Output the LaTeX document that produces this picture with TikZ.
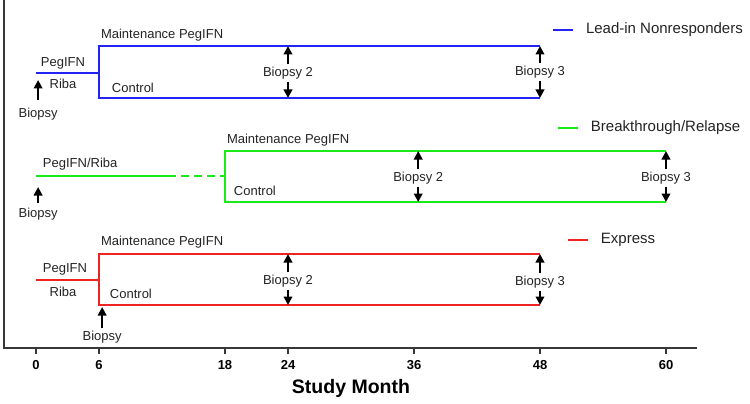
\documentclass[tikz,border=0pt]{standalone}
\usepackage{fontspec}
\setmainfont{Liberation Sans}
\usetikzlibrary{arrows.meta}
\definecolor{lnblue}{RGB}{35,35,245}
\definecolor{brgreen}{RGB}{25,235,25}
\definecolor{exred}{RGB}{240,35,35}
\definecolor{axgray}{RGB}{55,55,55}
\definecolor{txgray}{RGB}{35,35,35}
\begin{document}
\begin{tikzpicture}[x=10.5pt, y=-1pt, line width=2pt,
  lbl/.style={font=\fontsize{13}{15}\selectfont, text=txgray, inner sep=1.5pt},
  lblw/.style={lbl, anchor=west, inner sep=0pt},
  legtxt/.style={font=\fontsize{15}{18}\selectfont, text=txgray, anchor=west, inner sep=0pt},
  bx/.style={-{Triangle[length=8.5pt,width=8.5pt]}, line width=2.2pt, black},
  ticklbl/.style={font=\bfseries\fontsize{13}{15}\selectfont, text=black}]
  \useasboundingbox (-3.4286,0) rectangle (68,404);
  % axis
  \coordinate (ax0) at (-3.05,0);
  \coordinate (ax1) at (-3.05,348);
  \coordinate (ax2) at (62.95,348);
  \draw[axgray, line width=2.6pt] (ax0) -- (ax1) -- (ax2);
  \foreach \m in {0,6,18,24,36,48,60} {
    \draw[axgray] (\m,348) -- (\m,354);
    \node[ticklbl] (t\m) at (\m,365) {\m};
  }
  \node[font=\bfseries\fontsize{19.5}{22}\selectfont] (xlab) at (30,388) {Study Month};
  % lead-in nonresponders
  \coordinate (ln0) at (0,73);
  \coordinate (ln6) at (6,73);
  \coordinate (ln6t) at (6,46);
  \coordinate (ln6b) at (6,98);
  \coordinate (ln24t) at (24,46);
  \coordinate (ln24b) at (24,98);
  \coordinate (ln48t) at (48,46);
  \coordinate (ln48b) at (48,98);
  \draw[lnblue] (ln0) -- (ln6);
  \draw[lnblue] (ln48t) -- (ln6t) -- (ln6b) -- (ln48b);
  \node[lbl] (lnpeg) at (2.57,63) {PegIFN};
  \node[lbl] (lnriba) at (2.57,84) {Riba};
  \node[lblw] (lnmaint) at (6.1,35) {Maintenance PegIFN};
  \node[lblw] (lnctrl) at (7.14,88) {Control};
  \node[lbl] (lnbio) at (0.2,114) {Biopsy};
  \coordinate (lnbiotip) at (0.2,80);
  \draw[bx, shorten <=5pt] (lnbio) -- (lnbiotip);
  \node[lbl] (ln2) at (24,73) {Biopsy 2};
  \draw[bx] (ln2) -- (ln24t);
  \draw[bx] (ln2) -- (ln24b);
  \node[lbl] (ln3) at (48,72) {Biopsy 3};
  \draw[bx] (ln3) -- (ln48t);
  \draw[bx] (ln3) -- (ln48b);
  \coordinate (lnl0) at (49.24,30);
  \coordinate (lnl1) at (51.14,30);
  \draw[lnblue] (lnl0) -- (lnl1);
  \node[legtxt] (lnleg) at (52.29,30) {Lead-in Nonresponders};
  % breakthrough / relapse
  \coordinate (br0) at (0,176);
  \coordinate (br12) at (12.57,176);
  \coordinate (br18) at (18,176);
  \coordinate (br18t) at (18,151);
  \coordinate (br18b) at (18,202);
  \coordinate (br36t) at (36.4,151);
  \coordinate (br36b) at (36.4,202);
  \coordinate (br60t) at (60,151);
  \coordinate (br60b) at (60,202);
  \draw[brgreen] (br0) -- (br12);
  \draw[brgreen, dash pattern=on 8pt off 5pt] (br12) -- (br18);
  \draw[brgreen] (br60t) -- (br18t) -- (br18b) -- (br60b);
  \node[lblw] (brpeg) at (0.57,164) {PegIFN/Riba};
  \node[lblw] (brmaint) at (18.1,140) {Maintenance PegIFN};
  \node[lblw] (brctrl) at (18.76,191) {Control};
  \node[lbl] (brbio) at (0.2,214) {Biopsy};
  \coordinate (brbiotip) at (0.2,187);
  \draw[bx, shorten <=2pt] (brbio) -- (brbiotip);
  \node[lbl] (br2) at (36.4,178) {Biopsy 2};
  \draw[bx] (br2) -- (br36t);
  \draw[bx] (br2) -- (br36b);
  \node[lbl] (br3) at (60,178) {Biopsy 3};
  \draw[bx] (br3) -- (br60t);
  \draw[bx] (br3) -- (br60b);
  \coordinate (brl0) at (49.71,128);
  \coordinate (brl1) at (51.62,128);
  \draw[brgreen] (brl0) -- (brl1);
  \node[legtxt] (brleg) at (52.76,128) {Breakthrough/Relapse};
  % express
  \coordinate (ex0) at (0,280);
  \coordinate (ex6) at (6,280);
  \coordinate (ex6t) at (6,254);
  \coordinate (ex6b) at (6,305);
  \coordinate (ex24t) at (24,254);
  \coordinate (ex24b) at (24,305);
  \coordinate (ex48t) at (48,254);
  \coordinate (ex48b) at (48,305);
  \draw[exred] (ex0) -- (ex6);
  \draw[exred] (ex48t) -- (ex6t) -- (ex6b) -- (ex48b);
  \node[lbl] (expeg) at (2.76,269) {PegIFN};
  \node[lbl] (exriba) at (2.57,292) {Riba};
  \node[lblw] (exmaint) at (6.1,242) {Maintenance PegIFN};
  \node[lblw] (exctrl) at (6.95,294) {Control};
  \node[lbl] (exbio) at (6.3,337) {Biopsy};
  \coordinate (exbiotip) at (6.3,307);
  \draw[bx] (exbio) -- (exbiotip);
  \node[lbl] (ex2) at (24,281) {Biopsy 2};
  \draw[bx] (ex2) -- (ex24t);
  \draw[bx] (ex2) -- (ex24b);
  \node[lbl] (ex3) at (48,282) {Biopsy 3};
  \draw[bx] (ex3) -- (ex48t);
  \draw[bx] (ex3) -- (ex48b);
  \coordinate (exl0) at (50.67,240);
  \coordinate (exl1) at (52.57,240);
  \draw[exred] (exl0) -- (exl1);
  \node[legtxt] (exleg) at (53.71,240) {Express};
\end{tikzpicture}
\end{document}
